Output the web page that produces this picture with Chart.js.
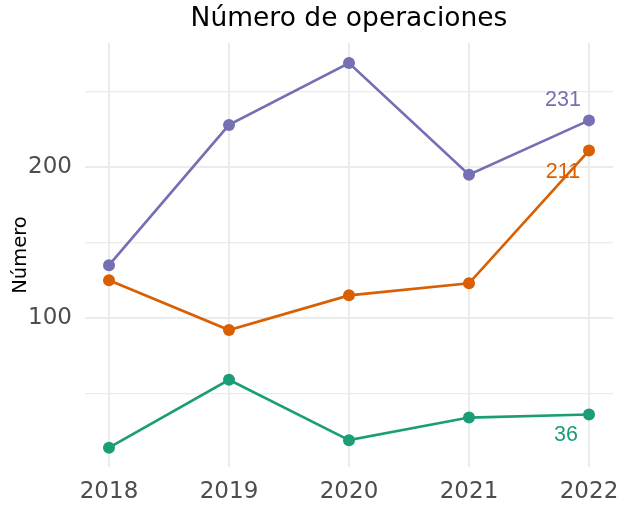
<!DOCTYPE html>
<html lang="es">
<head>
<meta charset="UTF-8">
<title>Número de operaciones</title>
<style>
  * { margin: 0; padding: 0; box-sizing: border-box; }
  body { background: #fff; }
  .chartbox { width: 624px; height: 506px; }
</style>
</head>
<body>
<div class="chartbox">
  <canvas id="myChart" width="624" height="506"></canvas>
</div>

<script src="https://cdn.jsdelivr.net/npm/chart.js"></script>
<script>
const years = [2018, 2019, 2020, 2021, 2022];
const purpleValues = [135, 228, 269, 195, 231];
const orangeValues = [125, 92, 115, 123, 211];
const greenValues = [14, 59, 19, 34, 36];
const yTickLabels = [100, 200];

const colors = { purple: '#7570b3', orange: '#d95f02', green: '#1b9e77' };

function points(vals) {
  return years.map((y, i) => ({ x: y, y: vals[i] }));
}

function series(vals, color) {
  return {
    data: points(vals),
    borderColor: color,
    backgroundColor: color,
    borderWidth: 2.7,
    pointRadius: 6,
    pointHoverRadius: 6,
    pointBorderWidth: 0,
    tension: 0
  };
}

// end labels next to the last point of each line
const endLabels = [
  { ds: 0, text: '231', dx: -26, dy: -20 },
  { ds: 1, text: '211', dx: -26, dy: 22 },
  { ds: 2, text: '36', dx: -23, dy: 21 }
];

const labelPlugin = {
  id: 'endLabels',
  afterDatasetsDraw(chart) {
    const ctx = chart.ctx;
    ctx.save();
    ctx.font = '21.5px "Liberation Sans", Arial, sans-serif';
    ctx.textAlign = 'center';
    ctx.textBaseline = 'middle';
    endLabels.forEach(l => {
      const meta = chart.getDatasetMeta(l.ds);
      const pt = meta.data[meta.data.length - 1];
      ctx.fillStyle = chart.data.datasets[l.ds].borderColor;
      ctx.fillText(l.text, pt.x + l.dx, pt.y + l.dy);
    });
    // title centred on the plot panel
    const a = chart.chartArea;
    ctx.fillStyle = '#000';
    ctx.font = '26.5px "DejaVu Sans", sans-serif';
    ctx.fillText('Número de operaciones', (a.left + a.right) / 2, 19);
    ctx.restore();
  }
};

const config = {
  type: 'line',
  data: {
    datasets: [
      series(purpleValues, colors.purple),
      series(orangeValues, colors.orange),
      series(greenValues, colors.green)
    ]
  },
  options: {
    responsive: false,
    animation: false,
    layout: { padding: { top: 43, right: 11, left: 0, bottom: 0 } },
    plugins: {
      legend: { display: false },
      tooltip: { enabled: false }
    },
    scales: {
      x: {
        type: 'linear',
        min: 2017.8,
        max: 2022.2,
        border: { display: false },
        grid: { color: '#ebebeb', lineWidth: 2, drawTicks: false },
        ticks: {
          stepSize: 1,
          includeBounds: false,
          padding: 11,
          color: '#4d4d4d',
          font: { family: 'DejaVu Sans', size: 23 },
          callback: v => String(v)
        },
        afterFit(scale) {
          scale.height = 39;
          // labels may overhang the panel, like in the original
          scale.paddingLeft = 0;
          scale.paddingRight = 0;
        }
      },
      y: {
        min: 1.2,
        max: 282.3,
        border: { display: false },
        grid: {
          color: '#ebebeb',
          drawTicks: false,
          lineWidth: c => (yTickLabels.includes(c.tick.value) ? 2 : 1.3)
        },
        ticks: {
          stepSize: 50,
          includeBounds: false,
          padding: 13,
          color: '#4d4d4d',
          font: { family: 'DejaVu Sans', size: 23 },
          callback: v => (yTickLabels.includes(v) ? String(v) : '')
        },
        title: {
          display: true,
          text: 'Número',
          color: '#000',
          font: { family: 'DejaVu Sans', size: 19.5 },
          padding: { top: 9, bottom: 0 }
        },
        afterFit(scale) {
          scale.width = 85;
          scale.paddingTop = 0;
          scale.paddingBottom = 0;
        }
      }
    }
  },
  plugins: [labelPlugin]
};

const myChart = new Chart(document.getElementById('myChart'), config);
</script>
</body>
</html>
